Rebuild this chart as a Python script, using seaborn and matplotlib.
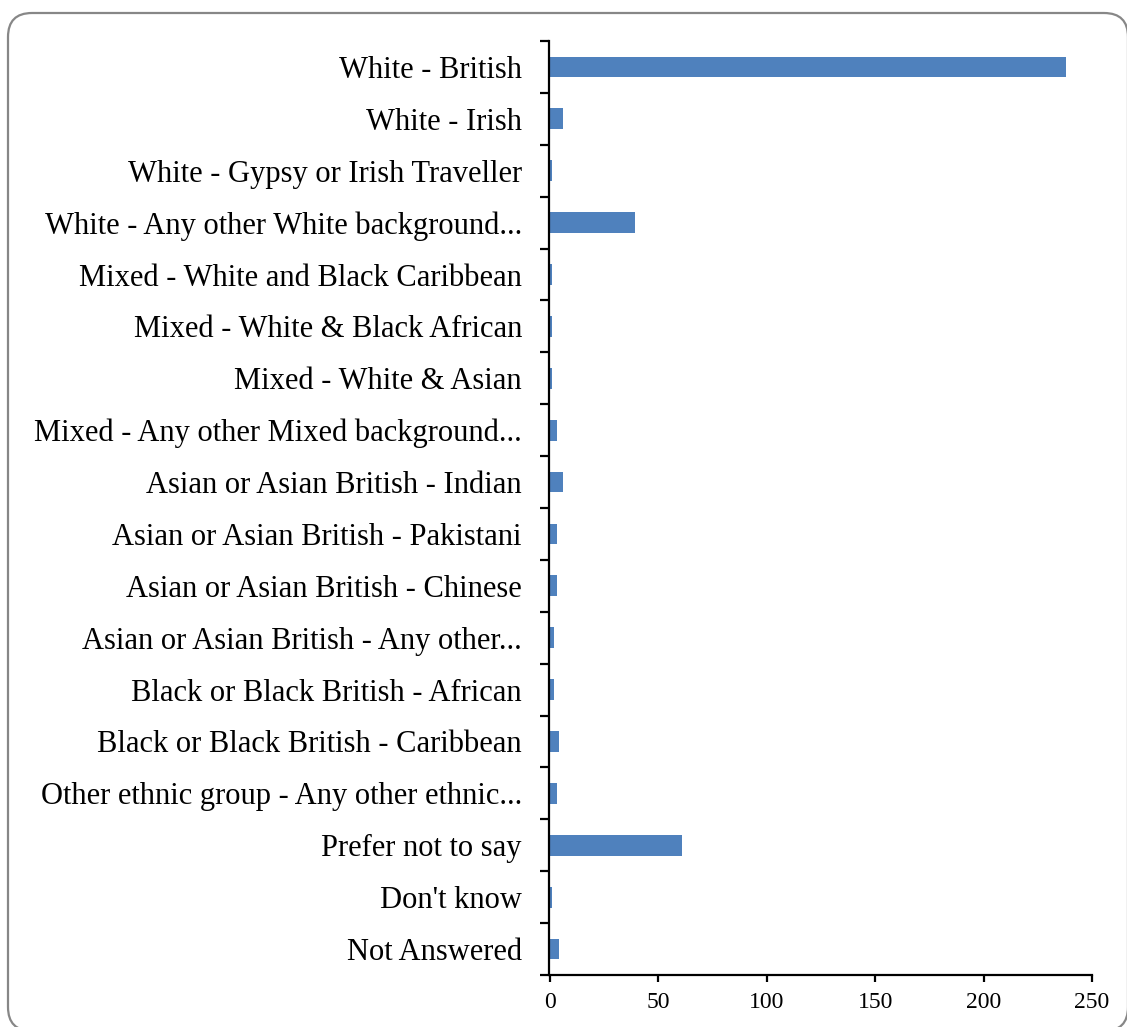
import matplotlib
matplotlib.use("Agg")
import matplotlib.pyplot as plt
import matplotlib.transforms as mtransforms
import seaborn as sns
import pandas as pd
from matplotlib.patches import FancyBboxPatch
from matplotlib.ticker import FixedLocator

categories = [
    "White - British",
    "White - Irish",
    "White - Gypsy or Irish Traveller",
    "White - Any other White background...",
    "Mixed - White and Black Caribbean",
    "Mixed - White & Black African",
    "Mixed - White & Asian",
    "Mixed - Any other Mixed background...",
    "Asian or Asian British - Indian",
    "Asian or Asian British - Pakistani",
    "Asian or Asian British - Chinese",
    "Asian or Asian British - Any other...",
    "Black or Black British - African",
    "Black or Black British - Caribbean",
    "Other ethnic group - Any other ethnic...",
    "Prefer not to say",
    "Don't know",
    "Not Answered",
]
values = [238, 6, 1, 39, 1, 1, 1, 3, 6, 3, 3, 2, 2, 4, 3, 61, 1, 4]
xticks = [0, 50, 100, 150, 200, 250]

sns.set_theme(style="white")
plt.rcParams['font.family'] = ['Liberation Serif', 'DejaVu Serif']

df = pd.DataFrame({"category": categories, "value": values})

fig = plt.figure(figsize=(11.27, 10.27), dpi=100)
border = FancyBboxPatch((8, -4), 1120, 1018,
                        boxstyle="round,pad=0,rounding_size=24",
                        transform=mtransforms.IdentityTransform(), facecolor="white",
                        edgecolor="#878787", linewidth=1.6, zorder=-5)
fig.patches.append(border)

ax = fig.add_axes([550 / 1127, 1 - 975 / 1027, (1092 - 550) / 1127, (975 - 41) / 1027])
ax.set_facecolor("none")
sns.barplot(data=df, x="value", y="category", orient="h", color="#4F81BD",
            saturation=1, width=0.4, linewidth=0, ax=ax)
ax.set_xlim(0, 250)
ax.set_ylim(len(categories) - 0.5, -0.5)
ax.set_xticks(xticks)
ax.set_xlabel("")
ax.set_ylabel("")
for s in ["top", "right"]:
    ax.spines[s].set_visible(False)
for s in ["left", "bottom"]:
    ax.spines[s].set_color("black")
    ax.spines[s].set_linewidth(1.6)
ax.spines["left"].set_position(("data", -0.45))
ax.tick_params(axis="y", which="major", length=0, labelsize=22, pad=19.5, colors="black")
ax.yaxis.set_minor_locator(FixedLocator([i - 0.5 for i in range(len(categories) + 1)]))
ax.tick_params(axis="y", which="minor", length=6.5, width=1.6, color="black", left=True)
ax.tick_params(axis="x", which="major", length=5, width=1.6, color="black",
               labelsize=17, bottom=True, labelcolor="black", pad=7)
fig.savefig("out.png", dpi=100)
